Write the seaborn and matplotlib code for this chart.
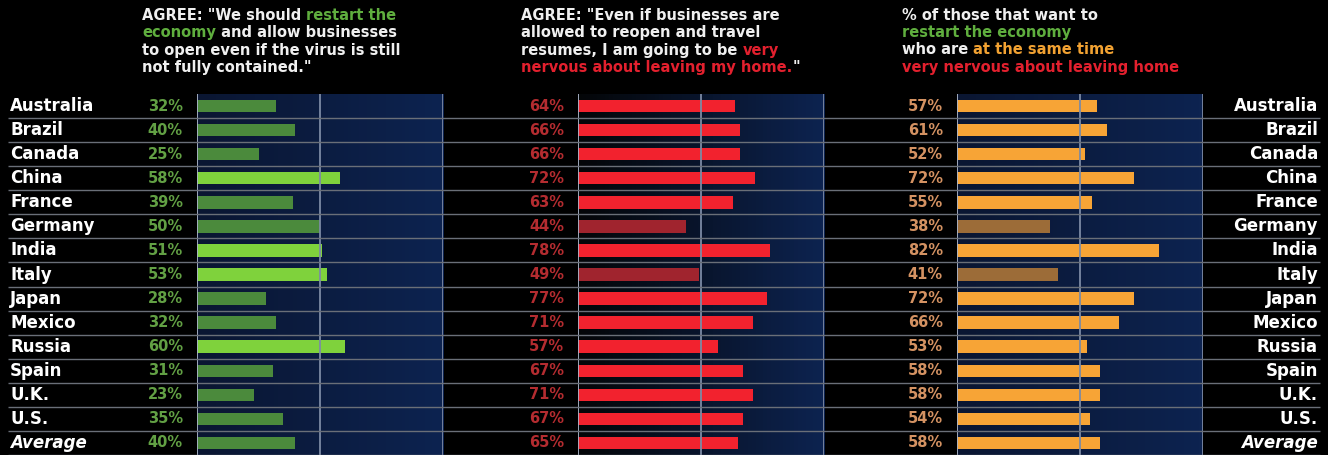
import numpy as np
import pandas as pd
import seaborn as sns
import matplotlib.pyplot as plt
from matplotlib.colors import LinearSegmentedColormap
from matplotlib.transforms import IdentityTransform, blended_transform_factory

# survey data (share of respondents, %)
countries = ["Australia", "Brazil", "Canada", "China", "France", "Germany", "India",
             "Italy", "Japan", "Mexico", "Russia", "Spain", "U.K.", "U.S.", "Average"]
restart = [32, 40, 25, 58, 39, 50, 51, 53, 28, 32, 60, 31, 23, 35, 40]
nervous = [64, 66, 66, 72, 63, 44, 78, 49, 77, 71, 57, 67, 71, 67, 65]
both = [57, 61, 52, 72, 55, 38, 82, 41, 72, 66, 53, 58, 58, 54, 58]

W, H = 1328, 455
sns.set_theme(style="white")
plt.rcParams["font.family"] = ["DejaVu Sans"]

fig = plt.figure(figsize=(W / 100, H / 100), dpi=100, facecolor="black")

top = 1 - 94 / H
panels = [
    # left px, values, bright, dim, label colour, gradient start
    (197, restart, "#7fd23c", "#4b8a3c", "#62a044", "#0a1632"),
    (578, nervous, "#f2222e", "#a0242e", "#b42c30", "#040608"),
    (957, both, "#f7a436", "#9c6c38", "#d49262", "#0a1632"),
]

df = pd.DataFrame({"country": countries})
for left, vals, bright, dim, lab_col, g0 in panels:
    ax = fig.add_axes([left / W, 0, 246 / W, top])
    cols = [bright if v > 50 else dim for v in vals]
    df["value"] = vals
    sns.barplot(data=df, x="value", y="country", hue="country", palette=cols,
                legend=False, ax=ax, width=0.52, saturation=1, orient="h",
                linewidth=0, edgecolor="none", zorder=2)
    cmap = LinearSegmentedColormap.from_list("bg", [g0, "#0d2350"])
    ax.imshow(np.linspace(0, 1, 64).reshape(1, -1), extent=[0, 100, 14.5, -0.5],
              aspect="auto", cmap=cmap, zorder=0)
    ax.set_xlim(0, 100)
    ax.set_ylim(14.5, -0.5)
    for xv in [0, 50, 100]:
        ax.axvline(xv, color="#aab4c8" if xv == 0 else "#7c8aa4", lw=1.3, zorder=3)
    ax.set_axis_off()
    tr = blended_transform_factory(ax.transAxes, ax.transData)
    for i, v in enumerate(vals):
        ax.text(-0.057, i, f"{v}%", transform=tr, ha="right", va="center",
                color=lab_col, fontsize=10.5, fontweight="bold", clip_on=False)

# overlay with row separators and country names
ov = fig.add_axes([0, 0, 1, top], facecolor="none")
ov.set_xlim(0, W)
ov.set_ylim(14.5, -0.5)
ov.set_axis_off()
ov.hlines(np.arange(0.5, 15, 1), 8, 1320, color="#6a6f78", lw=1.0)
for i, c in enumerate(countries):
    style = "italic" if c == "Average" else "normal"
    ov.text(10, i, c, ha="left", va="center", color="white", fontsize=12,
            fontweight="bold", fontstyle=style)
    ov.text(1318, i, c, ha="right", va="center", color="white", fontsize=12,
            fontweight="bold", fontstyle=style)

WHITE, GREEN, RED, ORANGE = "#f0f0f0", "#5fae3e", "#e3202e", "#f2a232"
titles = [
    (142, [[('AGREE: "We should ', WHITE), ("restart the", GREEN)],
           [("economy", GREEN), (" and allow businesses", WHITE)],
           [("to open even if the virus is still", WHITE)],
           [('not fully contained."', WHITE)]]),
    (521, [[('AGREE: "Even if businesses are', WHITE)],
           [("allowed to reopen and travel", WHITE)],
           [("resumes, I am going to be ", WHITE), ("very", RED)],
           [("nervous about leaving my home.", RED), ('"', WHITE)]]),
    (902, [[("% of those that want to", WHITE)],
           [("restart the economy", GREEN)],
           [("who are ", WHITE), ("at the same time", ORANGE)],
           [("very nervous about leaving home", RED)]]),
]

rend = fig.canvas.get_renderer()
for x0, lines in titles:
    for li, parts in enumerate(lines):
        xx = x0
        for s, c in parts:
            t = fig.text(xx, H - 15 - li * 17.5, s, transform=IdentityTransform(),
                         color=c, fontsize=10.5, fontweight="bold", ha="left", va="center")
            xx += t.get_window_extent(rend).width

fig.savefig("out.png", dpi=100, facecolor="black")
